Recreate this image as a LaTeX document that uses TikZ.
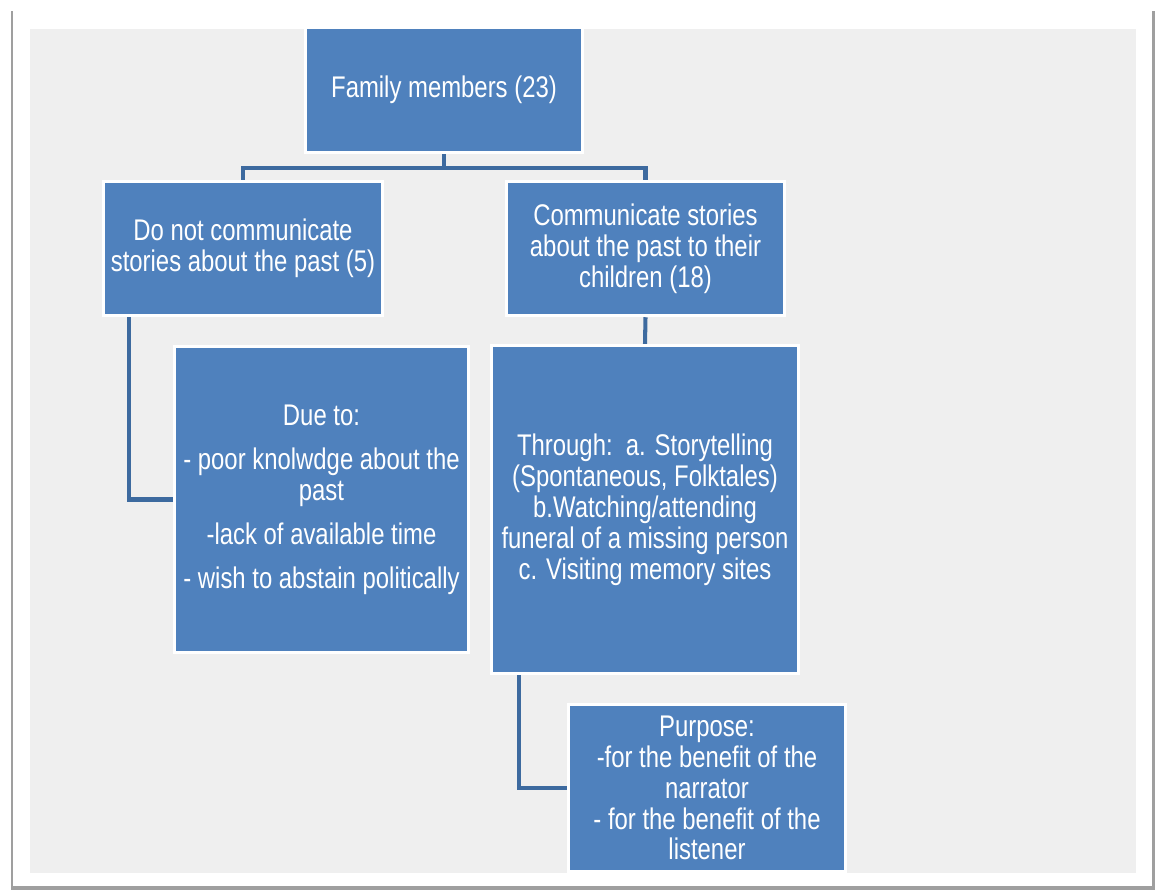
\documentclass[tikz,border=0pt]{standalone}
\usepackage{fontspec}
\setmainfont[FakeStretch=0.8]{Liberation Sans}
\usepackage{tikz}

\definecolor{boxblue}{HTML}{4F81BD}
\definecolor{linkblue}{HTML}{3D6A9F}
\definecolor{panelgray}{HTML}{EFEFEF}

\begin{document}
\begin{tikzpicture}[x=0.02cm, y=-0.02cm,
		box/.style={draw=white, line width=2pt, fill=boxblue, text=white, align=center, inner sep=0pt,
			font=\fontsize{17pt}{17.6pt}\selectfont},
		link/.style={draw=linkblue, line width=2.3pt}]
		\useasboundingbox (0,0) rectangle (1159,893);
		\fill[white] (0,0) rectangle (1159,893);
		\fill[gray!75] (11,11) rectangle (1155,890);
		\fill[white] (13,9) rectangle (1152,886);
		\fill[panelgray] (30,29) rectangle (1136,873);
		
		\node[box, minimum width=5.54cm, minimum height=2.5cm] (fam) at (444,90) {Family members (23)};
		\node[box, minimum width=5.58cm, minimum height=2.68cm] (nocom) at (243,248.5) {Do not communicate\\stories about the past (5)};
		\node[box, minimum width=5.56cm, minimum height=2.68cm] (com) at (645.5,248.5) {Communicate stories\\about the past to their\\children (18)};
		\node[box, minimum width=5.88cm, minimum height=6.12cm] (due) at (321.5,499.5) {Due to:\\[7.4pt]- poor knolwdge about the\\past\\[7.4pt]-lack of available time\\[7.4pt]- wish to abstain politically};
		\node[box, minimum width=6.14cm, minimum height=6.56cm] (thr) at (645,509.5) {Through:\ \ a. Storytelling\\(Spontaneous, Folktales)\\b.Watching/attending\\funeral of a missing person\\c. Visiting memory sites};
		\node[box, minimum width=5.54cm, minimum height=3.34cm] (purp) at (707,788) {Purpose:\\-for the benefit of the\\narrator\\- for the benefit of the\\listener};
		
		\coordinate (bar) at (444,168);
		\draw[link] (fam.south) -- (bar);
		\draw[link] (bar) -| (nocom.north);
		\draw[link] (bar) -| (com.north);
		\draw[link] ([xshift=0.54cm]nocom.south west) |- (due.west);
		\draw[link] (com.south) -- (thr.north);
		\draw[link] ([xshift=0.58cm]thr.south west) |- (purp.west);
	\end{tikzpicture}
\end{document}
